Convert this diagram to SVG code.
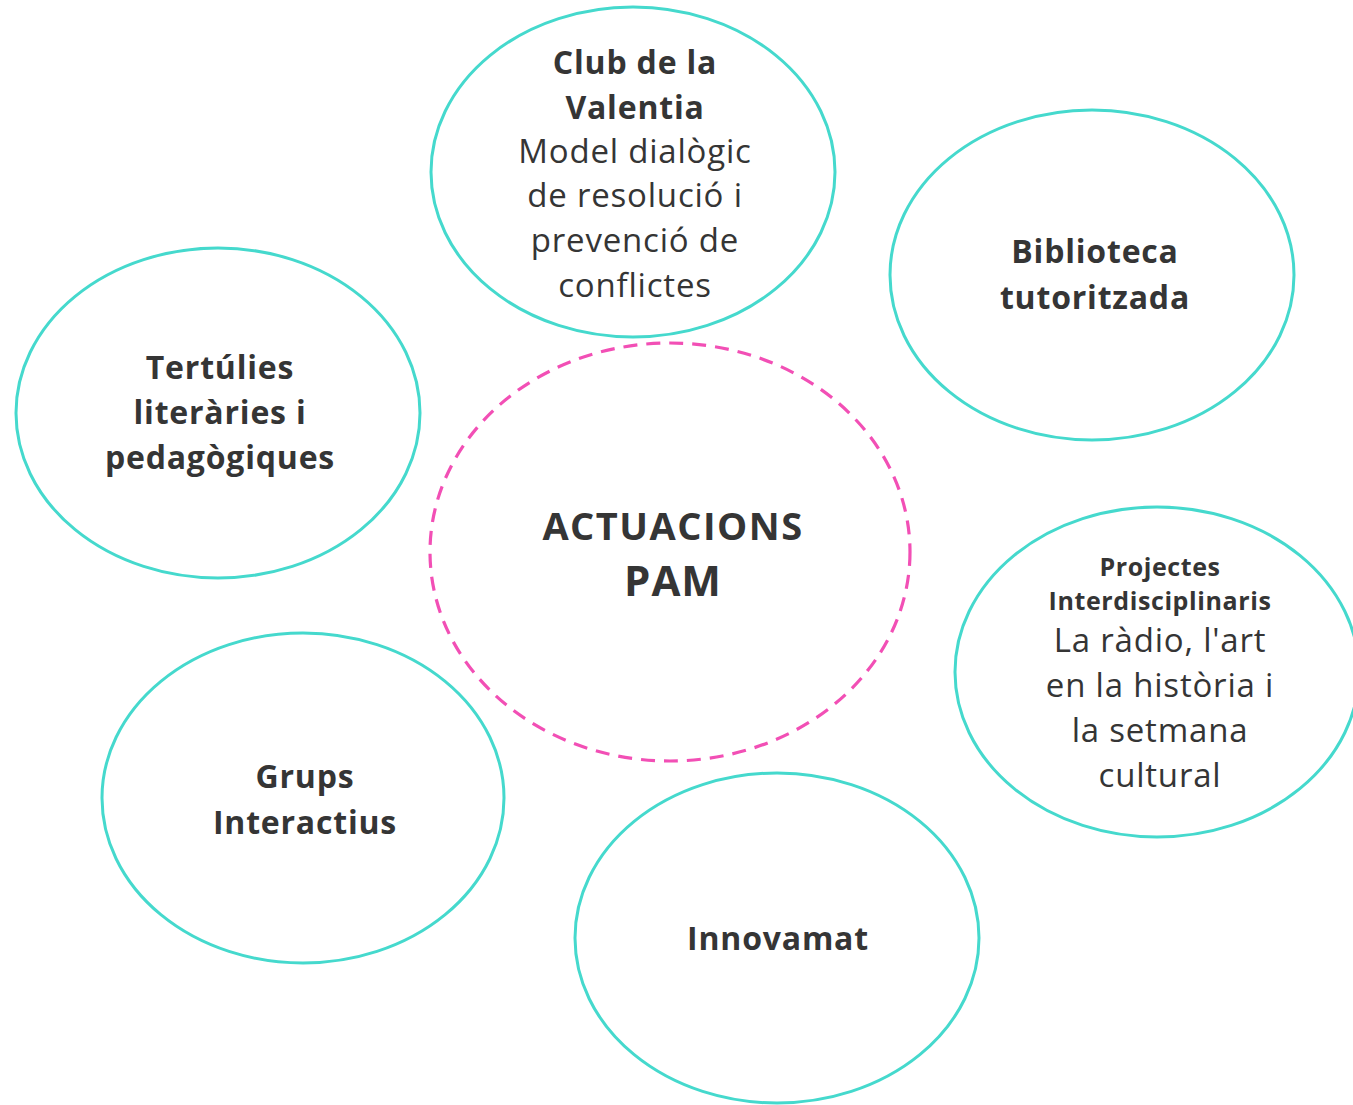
<svg xmlns="http://www.w3.org/2000/svg" width="1353" height="1105" viewBox="0 0 1353 1105">
<style>
.n{fill:#fff;stroke:#45d9cd;stroke-width:3}
.c{fill:#fff;stroke:#f24fb5;stroke-width:3.2;stroke-dasharray:14 9}
text{font-family:"Open Sans","Liberation Sans",sans-serif;fill:#353535;text-anchor:middle}
.b{font-weight:700;font-size:32px;letter-spacing:0.8px}
.r{font-size:33px;letter-spacing:0.8px}
.s{font-weight:700;font-size:25px;letter-spacing:0.6px}
</style>
<rect width="1353" height="1105" fill="#fff"/>
<g id="connectors"></g>
<g id="center">
<ellipse class="c" cx="670" cy="552" rx="240" ry="209"/>
<text class="b" x="673" y="540" style="font-size:38px;letter-spacing:1.5px">ACTUACIONS</text>
<text class="b" x="673" y="596" style="font-size:42px;letter-spacing:1px">PAM</text>
</g>
<g id="club">
<ellipse class="n" cx="633" cy="172" rx="202" ry="165"/>
<text class="b" x="635" y="74">Club de la</text>
<text class="b" x="635" y="119">Valentia</text>
<text class="r" x="635" y="163">Model dialògic</text>
<text class="r" x="635" y="207">de resolució i</text>
<text class="r" x="635" y="252">prevenció de</text>
<text class="r" x="635" y="297">conflictes</text>
</g>
<g id="biblioteca">
<ellipse class="n" cx="1092" cy="275" rx="202" ry="165"/>
<text class="b" x="1095" y="263">Biblioteca</text>
<text class="b" x="1095" y="309">tutoritzada</text>
</g>
<g id="tertulies">
<ellipse class="n" cx="218" cy="413" rx="202" ry="165"/>
<text class="b" x="220" y="379">Tertúlies</text>
<text class="b" x="220" y="424">literàries i</text>
<text class="b" x="220" y="469">pedagògiques</text>
</g>
<g id="projectes">
<ellipse class="n" cx="1157" cy="672" rx="202" ry="165"/>
<text class="s" x="1160" y="576">Projectes</text>
<text class="s" x="1160" y="610">Interdisciplinaris</text>
<text class="r" x="1160" y="652">La ràdio, l'art</text>
<text class="r" x="1160" y="697">en la història i</text>
<text class="r" x="1160" y="742">la setmana</text>
<text class="r" x="1160" y="787">cultural</text>
</g>
<g id="grups">
<ellipse class="n" cx="303" cy="798" rx="201" ry="165"/>
<text class="b" x="305" y="788">Grups</text>
<text class="b" x="305" y="834">Interactius</text>
</g>
<g id="innovamat">
<ellipse class="n" cx="777" cy="938" rx="202" ry="165"/>
<text class="b" x="778" y="950">Innovamat</text>
</g>
</svg>
